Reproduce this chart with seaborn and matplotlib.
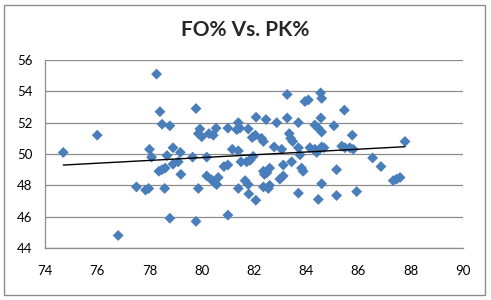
import pandas as pd
import matplotlib
matplotlib.use("Agg")
import matplotlib.pyplot as plt
import seaborn as sns
from matplotlib.patches import Rectangle

# ==========================================
# Data
# ==========================================
fo_pct = [74.7, 76.0, 76.8, 77.5, 77.85, 77.97, 78.0, 78.08, 78.27, 78.4,
          78.48, 78.78, 78.36, 78.48, 78.6, 78.67, 78.9, 78.9, 79.1, 79.18,
          79.2, 78.58, 78.78, 79.78, 79.93, 79.87, 80.0, 80.28, 79.65, 80.19,
          79.87, 79.78, 80.44, 80.55, 81.0, 81.4, 81.34, 81.46, 81.78, 81.93,
          82.08, 80.85, 81.0, 81.17, 81.4, 81.5, 81.72, 81.85, 81.97, 80.19,
          80.38, 80.5, 80.63, 80.57, 81.4, 81.66, 81.78, 81.8, 82.07, 81.0,
          83.27, 83.95, 84.08, 82.46, 82.87, 83.27, 83.7, 82.05, 82.29, 82.36,
          83.35, 83.4, 83.48, 82.77, 83.06, 83.7, 83.76, 82.36, 82.49, 82.6,
          82.4, 82.36, 82.55, 82.6, 83.12, 83.44, 82.99, 83.12, 83.82, 83.88,
          83.7, 84.55, 84.59, 85.46, 84.56, 84.33, 84.46, 84.59, 85.06, 85.76,
          84.14, 84.33, 84.4, 84.59, 84.68, 85.36, 85.48, 85.67, 85.8, 85.16,
          84.59, 84.46, 85.16, 85.93, 86.54, 86.86, 87.33, 87.46, 87.59, 87.78]
pk_pct = [50.1, 51.2, 44.8, 47.9, 47.7, 47.8, 50.3, 49.8, 55.1, 52.7,
          51.9, 51.8, 48.9, 49.0, 49.1, 49.9, 50.4, 49.35, 49.5, 50.1,
          48.7, 47.8, 45.9, 52.9, 51.6, 51.3, 51.1, 51.3, 49.8, 49.8,
          47.8, 45.7, 51.2, 51.65, 51.65, 52.0, 51.55, 51.65, 51.6, 51.05,
          52.35, 49.2, 49.3, 50.3, 50.2, 49.5, 49.5, 49.6, 49.85, 48.6,
          48.35, 48.15, 48.5, 48.05, 47.8, 48.3, 48.05, 47.45, 47.05, 46.1,
          53.8, 53.35, 53.45, 52.2, 52.0, 52.3, 52.0, 51.2, 51.0, 50.8,
          51.3, 51.0, 50.8, 50.45, 50.3, 50.4, 49.95, 48.9, 48.8, 49.1,
          48.7, 47.9, 47.8, 48.0, 49.3, 49.5, 48.4, 48.6, 49.1, 48.9,
          47.5, 53.9, 53.55, 52.8, 52.3, 51.85, 51.65, 51.4, 51.8, 51.2,
          50.4, 50.3, 50.1, 50.45, 50.4, 50.5, 50.4, 50.4, 50.3, 49.0,
          48.1, 47.1, 47.35, 47.6, 49.75, 49.2, 48.3, 48.4, 48.5, 50.8]

x_ticks = [74, 76, 78, 80, 82, 84, 86, 88, 90]
y_ticks = [44, 46, 48, 50, 52, 54, 56]

df = pd.DataFrame({"FO%": fo_pct, "PK%": pk_pct})

# ==========================================
# Plot
# ==========================================
sns.set_style("white")
plt.rcParams["font.family"] = ["Lato", "DejaVu Sans"]

fig = plt.figure(figsize=(4.91, 3.0), dpi=100)
ax = fig.add_axes([45 / 491, 1 - 248 / 300, 418 / 491, 188 / 300])

sns.regplot(data=df, x="FO%", y="PK%", ax=ax, ci=None, truncate=True,
            marker="D",
            scatter_kws={"s": 31, "color": "#4A7EBB", "edgecolor": "none",
                         "alpha": 1, "zorder": 3},
            line_kws={"color": "black", "lw": 1, "zorder": 4})

ax.set_xlim(74, 90)
ax.set_ylim(44, 56)
ax.set_xticks(x_ticks)
ax.set_yticks(y_ticks)
ax.set_xlabel("")
ax.set_ylabel("")
ax.yaxis.grid(True, color="#8C8C8C", lw=0.9)
ax.set_axisbelow(True)
for s in ["top", "right"]:
    ax.spines[s].set_visible(False)
for s in ["left", "bottom"]:
    ax.spines[s].set_color("#8C8C8C")
    ax.spines[s].set_linewidth(0.9)
ax.tick_params(axis="both", direction="out", length=4, width=0.9,
               color="#8C8C8C", labelsize=9.5, labelcolor="black", pad=5)
ax.tick_params(axis="x", pad=8)

fig.text(0.5, 1 - 30 / 300, "FO% Vs. PK%", ha="center", va="center",
         fontsize=15, fontweight="bold")

fig.patches.append(Rectangle((4 / 491, 5 / 300), 481 / 491, 290 / 300,
                             transform=fig.transFigure, fill=False,
                             edgecolor="#8C8C8C", lw=1))

fig.savefig("out.png", dpi=100)
